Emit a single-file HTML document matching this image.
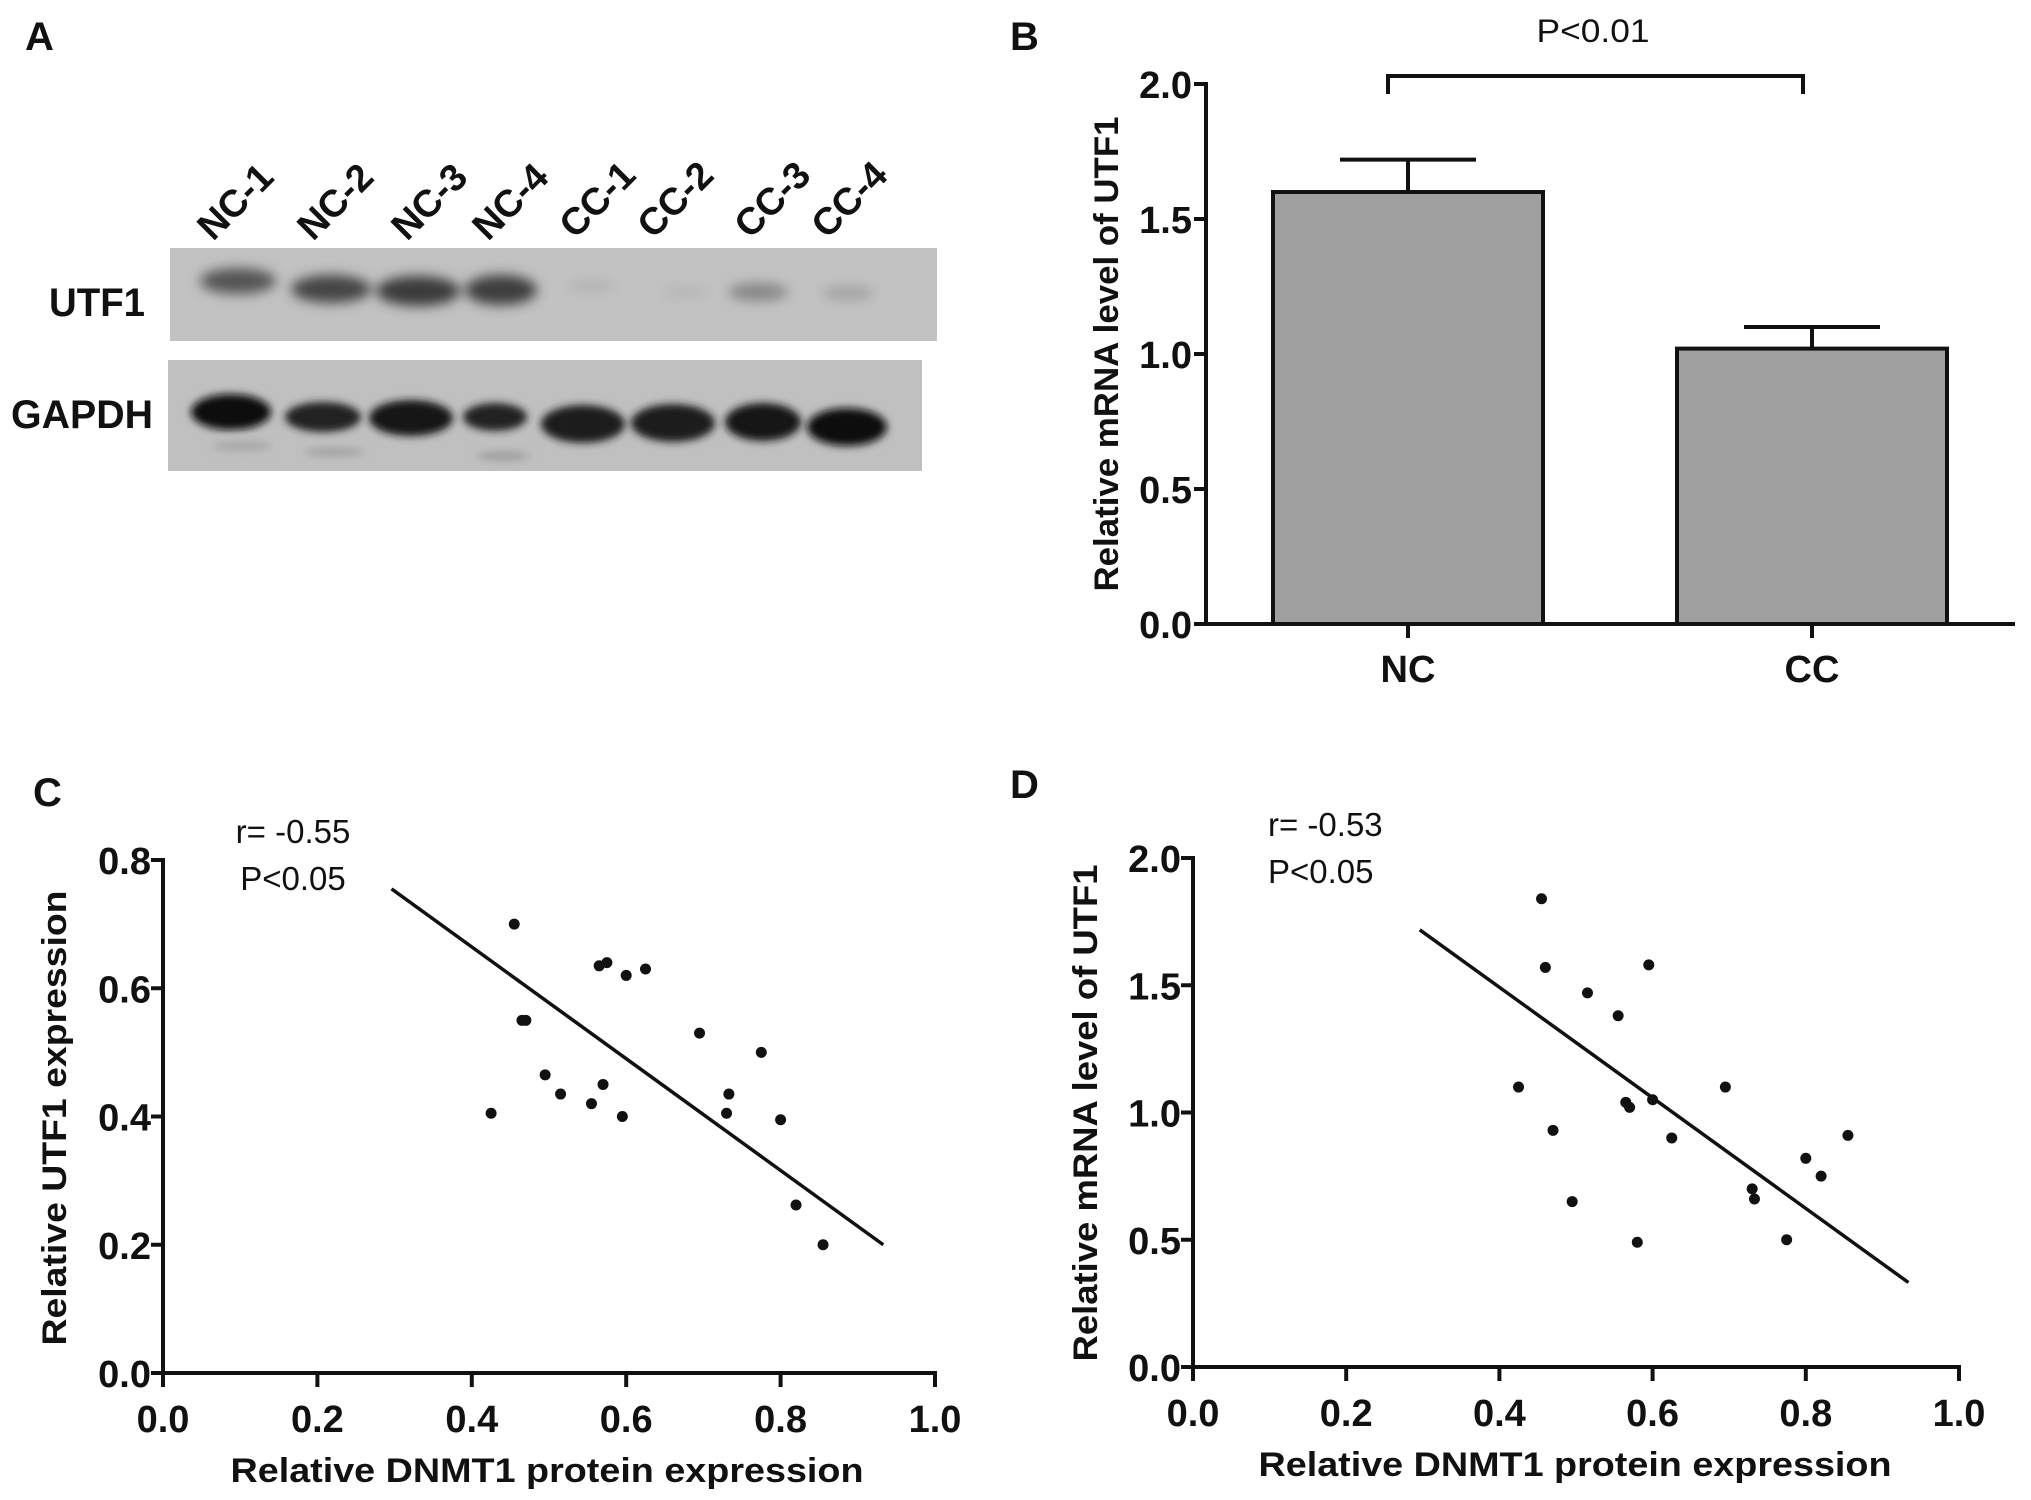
<!DOCTYPE html>
<html><head><meta charset="utf-8"><style>
html,body{margin:0;padding:0;background:#fff;overflow:hidden;}
svg{display:block;font-family:"Liberation Sans",Arial,sans-serif;}
.tick{font-weight:bold;font-size:38px;fill:#111;}
.title{font-weight:bold;font-size:34px;fill:#111;}
.lab{font-size:40px;fill:#111;}
</style></head><body>
<svg id="fig" width="2031" height="1500" viewBox="0 0 2031 1500" xmlns="http://www.w3.org/2000/svg">
<defs>
<filter id="blur" x="-30%" y="-80%" width="160%" height="260%"><feGaussianBlur stdDeviation="6"/></filter>
<filter id="blur2" x="-30%" y="-80%" width="160%" height="260%"><feGaussianBlur stdDeviation="4"/></filter>
</defs>
<g id="panelA">
<text x="25" y="50" class="lab" font-weight="bold">A</text>
<g font-size="38" font-weight="bold" fill="#111">
<text transform="translate(213,242) rotate(-45)">NC-1</text>
<text transform="translate(313,242) rotate(-45)">NC-2</text>
<text transform="translate(407,242) rotate(-45)">NC-3</text>
<text transform="translate(488,242) rotate(-45)">NC-4</text>
<text transform="translate(575,240) rotate(-45)">CC-1</text>
<text transform="translate(653,240) rotate(-45)">CC-2</text>
<text transform="translate(750,240) rotate(-45)">CC-3</text>
<text transform="translate(827,240) rotate(-45)">CC-4</text>
</g>
<text x="49" y="316" font-size="40" font-weight="bold" fill="#111" textLength="96" lengthAdjust="spacingAndGlyphs">UTF1</text>
<text x="11" y="428" font-size="40" font-weight="bold" fill="#111" textLength="142" lengthAdjust="spacingAndGlyphs">GAPDH</text>
<rect x="170" y="248" width="767" height="93" fill="#c2c2c2"/>
<g filter="url(#blur)">
<ellipse cx="238" cy="281" rx="38" ry="13" fill="#555"/>
<ellipse cx="331" cy="289" rx="40" ry="14" fill="#444"/>
<ellipse cx="418" cy="291" rx="42" ry="15" fill="#3a3a3a"/>
<ellipse cx="501" cy="290" rx="36" ry="15" fill="#3e3e3e"/>
<ellipse cx="591" cy="286" rx="24" ry="5" fill="#b0b0b0"/>
<ellipse cx="685" cy="292" rx="22" ry="5" fill="#b4b4b4"/>
<ellipse cx="758" cy="292" rx="30" ry="9" fill="#868686"/>
<ellipse cx="848" cy="293" rx="26" ry="7" fill="#a2a2a2"/>
</g>
<rect x="168" y="360" width="754" height="111" fill="#c0c0c0"/>
<g filter="url(#blur2)">
<ellipse cx="231" cy="412" rx="40" ry="18" fill="#111"/>
<ellipse cx="323" cy="417" rx="38" ry="15" fill="#222"/>
<ellipse cx="411" cy="418" rx="42" ry="18" fill="#151515"/>
<ellipse cx="495" cy="417" rx="32" ry="14" fill="#222"/>
<ellipse cx="583" cy="424" rx="42" ry="19" fill="#1c1c1c"/>
<ellipse cx="673" cy="423" rx="42" ry="19" fill="#1a1a1a"/>
<ellipse cx="763" cy="422" rx="38" ry="19" fill="#121212"/>
<ellipse cx="847" cy="427" rx="40" ry="19" fill="#0f0f0f"/>
<ellipse cx="242" cy="446" rx="30" ry="5" fill="#a8a8a8"/>
<ellipse cx="334" cy="452" rx="30" ry="4" fill="#a0a0a0"/>
<ellipse cx="503" cy="456" rx="26" ry="5" fill="#a0a0a0"/>
</g>
</g>
<g id="panelB"></g>
<g id="panelC"></g>
<g id="panelD"></g>
</svg>
<script>
const barCategories = ["NC", "CC"];
const barValues = [1.60, 1.02];
const barErrors = [0.12, 0.08];
const barTicks = ["0.0", "0.5", "1.0", "1.5", "2.0"];

const cX = [0.425,0.455,0.465,0.47,0.495,0.515,0.555,0.565,0.57,0.575,0.595,0.6,0.625,0.695,0.73,0.733,0.775,0.8,0.82,0.855];
const cY = [0.405,0.70,0.55,0.55,0.465,0.435,0.42,0.635,0.45,0.64,0.40,0.62,0.63,0.53,0.405,0.435,0.50,0.395,0.262,0.20];
const cFitX = [0.296, 0.933];
const cFitY = [0.755, 0.20];
const cYTicks = ["0.0","0.2","0.4","0.6","0.8"];
const xTicks = ["0.0","0.2","0.4","0.6","0.8","1.0"];

const dX = [0.425,0.455,0.46,0.47,0.495,0.515,0.555,0.565,0.57,0.58,0.595,0.6,0.625,0.695,0.73,0.733,0.775,0.8,0.82,0.855];
const dY = [1.10,1.84,1.57,0.93,0.65,1.47,1.38,1.04,1.02,0.49,1.58,1.05,0.90,1.10,0.70,0.66,0.50,0.82,0.75,0.91];
const dFitX = [0.296, 0.934];
const dFitY = [1.718, 0.332];
const dYTicks = ["0.0","0.5","1.0","1.5","2.0"];

const NS = "http://www.w3.org/2000/svg";
function mk(parent, tag, attrs, text) {
  const e = document.createElementNS(NS, tag);
  for (const k in attrs) e.setAttribute(k, attrs[k]);
  if (text !== undefined) e.textContent = text;
  parent.appendChild(e);
  return e;
}

// ---------- Panel B ----------
(function(){
  const g = document.getElementById('panelB');
  const x0 = 1206, y0 = 624, yTop = 84, xEnd = 2015, ymax = 2.0;
  const ys = v => y0 - v / ymax * (y0 - yTop);
  const centers = [1408, 1812], halfW = 135, capHalf = 68;
  let t = mk(g, 'text', {x: 1010, y: 50, class: 'lab', 'font-weight': 'bold'}, 'B');
  
  
  barCategories.forEach((c, i) => {
    const top = ys(barValues[i]);
    const eb = mk(g, 'line', {x1: centers[i], x2: centers[i], y1: top, y2: ys(barValues[i] + barErrors[i]), stroke: '#111', 'stroke-width': 4});
    
    
    const cap = mk(g, 'line', {x1: centers[i] - capHalf, x2: centers[i] + capHalf, y1: ys(barValues[i] + barErrors[i]), y2: ys(barValues[i] + barErrors[i]), stroke: '#111', 'stroke-width': 4});
    
    
    const r = mk(g, 'rect', {x: centers[i] - halfW, y: top, width: halfW * 2, height: y0 - top, fill: '#a0a0a0', stroke: '#111', 'stroke-width': 4});
    
    
    const tk = mk(g, 'line', {x1: centers[i], x2: centers[i], y1: y0, y2: y0 + 14, stroke: '#111', 'stroke-width': 4});
    
    
    const lb = mk(g, 'text', {x: centers[i], y: 682, 'text-anchor': 'middle', class: 'tick'}, c);
    
    
  });
  barTicks.forEach((s, i) => {
    const v = parseFloat(s), y = ys(v);
    const tk = mk(g, 'line', {x1: x0 - 12, x2: x0, y1: y, y2: y, stroke: '#111', 'stroke-width': 4});
    
    
    const lb = mk(g, 'text', {x: x0 - 14, y: y + 14, 'text-anchor': 'end', class: 'tick'}, s);
    
    
  });
  const ax = mk(g, 'path', {d: `M${x0},${yTop - 2} V${y0} H${xEnd}`, fill: 'none', stroke: '#111', 'stroke-width': 4});
  
  
  const yt = mk(g, 'text', {x: 0, y: 0, transform: 'translate(1118,354) rotate(-90)', 'text-anchor': 'middle', class: 'title', textLength: 475, lengthAdjust: 'spacingAndGlyphs'}, 'Relative mRNA level of UTF1');
  
  
  const br = mk(g, 'path', {d: 'M1388,94 V76 H1803 V94', fill: 'none', stroke: '#111', 'stroke-width': 4});
  
  
  const pv = mk(g, 'text', {x: 1593, y: 42, 'text-anchor': 'middle', 'font-size': 32, fill: '#111', textLength: 113, lengthAdjust: 'spacingAndGlyphs'}, 'P<0.01');
  
  
})();

// ---------- Scatter panels ----------
function scatter(id, cfg) {
  const g = document.getElementById(id);
  const xs = v => cfg.x0 + v * (cfg.x1 - cfg.x0);
  const ys = v => cfg.y0 - v / cfg.ymax * (cfg.y0 - cfg.yTop);
  let t = mk(g, 'text', {x: cfg.labX, y: cfg.labY, class: 'lab', 'font-weight': 'bold'}, cfg.letter);
  
  
  const ax = mk(g, 'path', {d: `M${cfg.x0},${cfg.yTop - 2} V${cfg.y0} H${cfg.x1 + 2}`, fill: 'none', stroke: '#111', 'stroke-width': 4});
  
  
  cfg.yTicks.forEach(s => {
    const y = ys(parseFloat(s));
    const tk = mk(g, 'line', {x1: cfg.x0 - 12, x2: cfg.x0, y1: y, y2: y, stroke: '#111', 'stroke-width': 4});
    
    
    const lb = mk(g, 'text', {x: cfg.x0 - 12, y: y + 14, 'text-anchor': 'end', class: 'tick'}, s);
    
    
  });
  xTicks.forEach(s => {
    const x = xs(parseFloat(s));
    const tk = mk(g, 'line', {x1: x, x2: x, y1: cfg.y0, y2: cfg.y0 + 14, stroke: '#111', 'stroke-width': 4});
    
    
    const lb = mk(g, 'text', {x: x, y: cfg.y0 + 59, 'text-anchor': 'middle', class: 'tick'}, s);
    
    
  });
  const fit = mk(g, 'line', {x1: xs(cfg.fx[0]), y1: ys(cfg.fy[0]), x2: xs(cfg.fx[1]), y2: ys(cfg.fy[1]), stroke: '#111', 'stroke-width': 3.5});
  
  
  cfg.px.forEach((v, i) => {
    const c = mk(g, 'circle', {cx: xs(v), cy: ys(cfg.py[i]), r: 5.5, fill: '#111'});
    
    
  });
  const xt = mk(g, 'text', {x: cfg.xtX, y: cfg.y0 + 109, 'text-anchor': 'middle', class: 'title', textLength: 633, lengthAdjust: 'spacingAndGlyphs'}, 'Relative DNMT1 protein expression');
  
  
  const yt = mk(g, 'text', {x: 0, y: 0, transform: `translate(${cfg.ytX},${cfg.ytY}) rotate(-90)`, 'text-anchor': 'middle', class: 'title', textLength: cfg.ytLen, lengthAdjust: 'spacingAndGlyphs'}, cfg.ytitle);
  
  
  const r = mk(g, 'text', {x: cfg.rX, y: cfg.rY, 'text-anchor': cfg.anchor, 'font-size': 33, fill: '#111'}, cfg.rtext);
  
  
  const p = mk(g, 'text', {x: cfg.rX, y: cfg.rY + 47, 'text-anchor': cfg.anchor, 'font-size': 33, fill: '#111'}, 'P<0.05');
  
  
}
scatter('panelC', {letter: 'C', labX: 33, labY: 806, x0: 163, x1: 935, y0: 1373, yTop: 860, ymax: 0.8,
  yTicks: cYTicks, px: cX, py: cY, fx: cFitX, fy: cFitY, xtX: 547, ytX: 66, ytY: 1118, ytLen: 455,
  ytitle: 'Relative UTF1 expression', rX: 293, rY: 843, anchor: 'middle', rtext: 'r= -0.55'});
scatter('panelD', {letter: 'D', labX: 1010, labY: 798, x0: 1193, x1: 1959, y0: 1367, yTop: 858, ymax: 2.0,
  yTicks: dYTicks, px: dX, py: dY, fx: dFitX, fy: dFitY, xtX: 1575, ytX: 1097, ytY: 1113, ytLen: 497,
  ytitle: 'Relative mRNA level of UTF1', rX: 1268, rY: 836, anchor: 'start', rtext: 'r= -0.53'});
</script>
</body></html>
